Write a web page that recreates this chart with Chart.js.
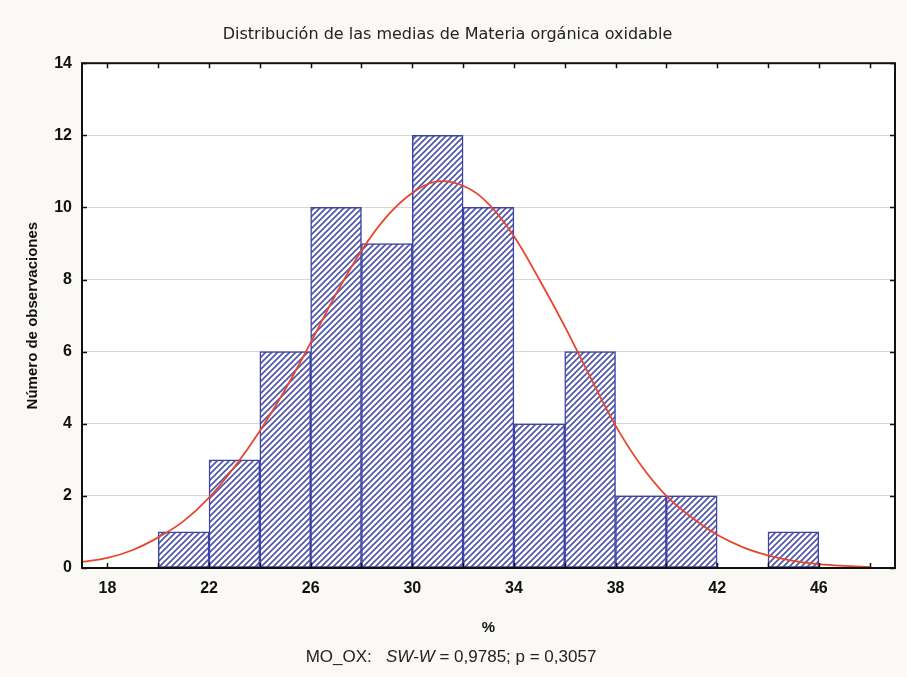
<!DOCTYPE html>
<html>
<head>
<meta charset="utf-8">
<style>
  html, body { margin: 0; padding: 0; background: #faf9f5; }
</style>
<script src="https://cdn.jsdelivr.net/npm/chart.js@4.4.1/dist/chart.umd.min.js"></script>
</head>
<body>
<canvas id="myChart" width="907" height="677"></canvas>
<script>
// histogram bins (width 2), centre of each bin
const binCenters = [21, 23, 25, 27, 29, 31, 33, 35, 37, 39, 41, 43, 45];
const counts = [1, 3, 6, 10, 9, 12, 10, 4, 6, 2, 2, 0, 1];

// fitted normal curve
const curveX = [17, 18, 19, 20, 21, 22, 23, 24, 25, 26, 27, 28, 29, 30, 31, 32,
  33, 34, 35, 36, 37, 38, 39, 40, 41, 42, 43, 44, 45, 46, 47, 48];
const curveY = [0.17, 0.28, 0.5, 0.85, 1.3, 1.95, 2.8, 3.8, 4.95, 6.25, 7.6, 8.8, 9.75, 10.4, 10.72, 10.6,
  10.1, 9.2, 8.0, 6.7, 5.3, 3.95, 2.85, 2.0, 1.4, 0.92, 0.58, 0.35, 0.2, 0.11, 0.06, 0.03];

const xTicks = [18, 22, 26, 30, 34, 38, 42, 46];
const yTicks = [0, 2, 4, 6, 8, 10, 12, 14];

const titleText = "Distribución de las medias de Materia orgánica oxidable";
const yTitle = "Número de observaciones";
const xTitle = "%";

function hatch() {
  const c = document.createElement("canvas");
  c.width = 6;
  c.height = 6;
  const g = c.getContext("2d");
  g.fillStyle = "#ffffff";
  g.fillRect(0, 0, 6, 6);
  g.strokeStyle = "#4d53a8";
  g.lineWidth = 1.6;
  g.beginPath();
  g.moveTo(-1, 7); g.lineTo(7, -1);
  g.moveTo(-1, 1); g.lineTo(1, -1);
  g.moveTo(5, 7); g.lineTo(7, 5);
  g.stroke();
  return g.createPattern(c, "repeat");
}

const framePlugin = {
  id: "frame",
  beforeDraw(chart) {
    const { ctx, chartArea: a } = chart;
    ctx.save();
    ctx.fillStyle = "#faf9f5";
    ctx.fillRect(0, 0, chart.width, chart.height);
    ctx.fillStyle = "#ffffff";
    ctx.fillRect(a.left, a.top, a.right - a.left, a.bottom - a.top);
    ctx.restore();
  },
  afterDraw(chart) {
    const { ctx, chartArea: a } = chart;
    const xs = chart.scales.x;
    const ys = chart.scales.y;
    ctx.save();
    ctx.strokeStyle = "#111";
    ctx.lineWidth = 1.5;
    ctx.beginPath();
    for (let v = 18; v <= 48; v += 2) {
      const px = Math.round(xs.getPixelForValue(v)) + 0.5;
      ctx.moveTo(px, a.top); ctx.lineTo(px, a.top + 5);
      ctx.moveTo(px, a.bottom); ctx.lineTo(px, a.bottom - 5);
    }
    for (const v of yTicks) {
      const py = Math.round(ys.getPixelForValue(v)) + 0.5;
      ctx.moveTo(a.right, py); ctx.lineTo(a.right - 5, py);
      ctx.moveTo(a.left, py); ctx.lineTo(a.left + 5, py);
    }
    ctx.stroke();
    ctx.lineWidth = 2;
    ctx.strokeRect(a.left, a.top, a.right - a.left, a.bottom - a.top);

    // footnote
    const parts = [
      ["MO_OX:   ", "17px 'Liberation Sans', Arial"],
      ["SW-W", "italic 17px 'Liberation Sans', Arial"],
      [" = 0,9785; p = 0,3057", "17px 'Liberation Sans', Arial"],
    ];
    let total = 0;
    for (const p of parts) { ctx.font = p[1]; total += ctx.measureText(p[0]).width; }
    let x = 451 - total / 2;
    ctx.fillStyle = "#222";
    ctx.textBaseline = "middle";
    for (const p of parts) {
      ctx.font = p[1];
      ctx.fillText(p[0], x, 657);
      x += ctx.measureText(p[0]).width;
    }
    ctx.restore();
  },
};

function renderChart() {
  const ctx = document.getElementById("myChart");

  const bars = [];
  for (let i = 0; i < binCenters.length; i++) {
    bars.push({ x: binCenters[i], y: counts[i] });
  }
  const curve = [];
  for (let i = 0; i < curveX.length; i++) {
    curve.push({ x: curveX[i], y: curveY[i] });
  }

  new Chart(ctx, {
    type: "bar",
    data: {
      datasets: [
        {
          type: "line",
          data: curve,
          borderColor: "#e8462c",
          borderWidth: 1.8,
          pointRadius: 0,
          tension: 0.4,
          order: 0,
        },
        {
          type: "bar",
          data: bars,
          backgroundColor: hatch(),
          borderColor: "#3d43a8",
          borderWidth: 1.5,
          borderSkipped: false,
          barPercentage: 1,
          categoryPercentage: 1,
          order: 1,
        },
      ],
    },
    options: {
      responsive: false,
      animation: false,
      devicePixelRatio: 1,
      layout: { padding: { left: 0, right: 12, top: 0, bottom: 35 } },
      plugins: {
        legend: { display: false },
        tooltip: { enabled: false },
        title: {
          display: true,
          text: titleText,
          color: "#222",
          font: { family: "'DejaVu Sans'", size: 16, weight: "normal" },
          padding: { top: 25, bottom: 19 },
        },
      },
      scales: {
        x: {
          type: "linear",
          min: 17,
          max: 49,
          offset: false,
          afterBuildTicks(scale) {
            scale.ticks = xTicks.map((v) => ({ value: v }));
          },
          afterFit(scale) { scale.height = 74; },
          grid: { display: false },
          border: { display: false },
          ticks: {
            padding: 3,
            color: "#111",
            font: { family: "'Liberation Sans', Arial", size: 16, weight: "bold" },
          },
          title: {
            display: true,
            text: xTitle,
            color: "#111",
            font: { family: "'Liberation Sans', Arial", size: 15, weight: "bold" },
            padding: { top: 5, bottom: 5 },
          },
        },
        y: {
          min: 0,
          max: 14,
          afterBuildTicks(scale) {
            scale.ticks = yTicks.map((v) => ({ value: v }));
          },
          afterFit(scale) { scale.width = 82; },
          grid: { color: "#dcd6d2", lineWidth: 1, drawTicks: false },
          border: { display: false },
          ticks: {
            padding: 10,
            color: "#111",
            font: { family: "'Liberation Sans', Arial", size: 16, weight: "bold" },
          },
          title: {
            display: true,
            text: yTitle,
            color: "#111",
            font: { family: "'Liberation Sans', Arial", size: 15, weight: "bold" },
            padding: { top: 24, bottom: 24 },
          },
        },
      },
    },
    plugins: [framePlugin],
  });
}
renderChart();
</script>
</body>
</html>
